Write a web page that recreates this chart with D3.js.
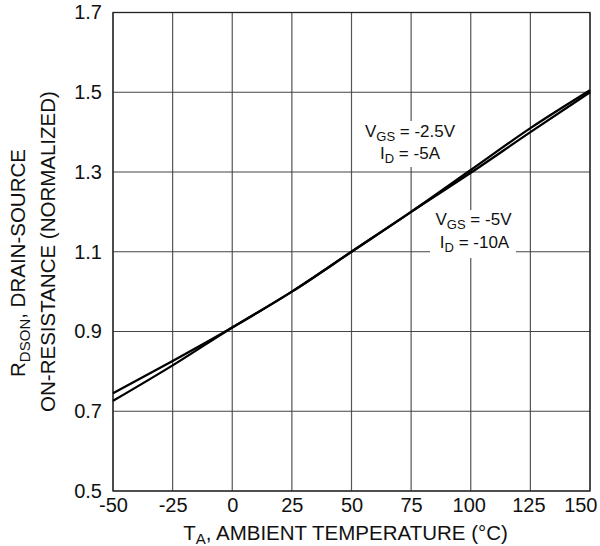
<!DOCTYPE html>
<html><head><meta charset="utf-8">
<script src="https://cdn.jsdelivr.net/npm/d3@7"></script>
<style>body{margin:0;background:#fff}svg{display:block}text{font-family:"Liberation Sans",Arial,sans-serif;fill:#111}</style>
</head><body><svg id="c" width="600" height="546"></svg>
<script>
const temps = [-50, -25, 0, 25, 50, 75, 100, 125, 150];
const seriesA = [0.745, 0.826, 0.91, 1.0, 1.1, 1.2, 1.305, 1.41, 1.505]; // VGS=-2.5V, ID=-5A
const seriesB = [0.726, 0.815, 0.91, 1.0, 1.1, 1.2, 1.298, 1.40, 1.5];   // VGS=-5V, ID=-10A
const xTicks = [-50, -25, 0, 25, 50, 75, 100, 125, 150];
const yTicks = [0.5, 0.7, 0.9, 1.1, 1.3, 1.5, 1.7];

const svg = d3.select("#c");
const L = 113, R = 590, T = 12.5, B = 491;
const x = d3.scaleLinear().domain([-50, 150]).range([L, R]);
const y = d3.scaleLinear().domain([0.5, 1.7]).range([B, T]);

// grid
const g = svg.append("g");
g.selectAll(".vx").data(xTicks).join("line")
  .attr("x1", d => x(d)).attr("x2", d => x(d)).attr("y1", T).attr("y2", B)
  .attr("stroke", "#555").attr("stroke-width", 1.2);
g.selectAll(".hy").data(yTicks).join("line")
  .attr("x1", L).attr("x2", R).attr("y1", d => y(d)).attr("y2", d => y(d))
  .attr("stroke", "#444").attr("stroke-width", 1.2);

// frame
svg.append("rect").attr("x", L).attr("y", T).attr("width", R - L).attr("height", B - T)
  .attr("fill", "none").attr("stroke", "#222").attr("stroke-width", 1.3);

// tick labels via axes
const xAxis = svg.append("g").attr("transform", `translate(0,${B})`)
  .call(d3.axisBottom(x).tickValues(xTicks).tickSize(0).tickPadding(7).tickFormat(d => String(d)));
xAxis.select(".domain").remove();
xAxis.selectAll("text").attr("font-size", 20).attr("font-family", "Liberation Sans, Arial, sans-serif").attr("fill", "#111")
  .attr("text-anchor", d => d === 150 ? "end" : "middle")
  .attr("dx", d => d === 150 ? 7 : (d >= 100 ? -2 : 0));
const yAxis = svg.append("g").attr("transform", `translate(${L},0)`)
  .call(d3.axisLeft(y).tickValues(yTicks).tickSize(0).tickPadding(11).tickFormat(d3.format(".1f")));
yAxis.select(".domain").remove();
yAxis.selectAll("text").attr("font-size", 20).attr("font-family", "Liberation Sans, Arial, sans-serif").attr("fill", "#111");

// annotation boxes (white) - behind lines
svg.append("rect").attr("x", 364).attr("y", 121).attr("width", 94).attr("height", 46).attr("fill", "#fff");
svg.append("rect").attr("x", 430).attr("y", 210).attr("width", 86).attr("height", 48).attr("fill", "#fff");

// lines
const line = d3.line().x((d, i) => x(temps[i])).y(d => y(d)).curve(d3.curveMonotoneX);
[seriesA, seriesB].forEach(s => {
  svg.append("path").attr("d", line(s)).attr("fill", "none").attr("stroke", "#000").attr("stroke-width", 2.3);
});

// annotations
function label(cx, by, main, sub, rest) {
  const t = svg.append("text").attr("x", cx).attr("y", by).attr("text-anchor", "middle").attr("font-size", 17);
  t.append("tspan").text(main);
  t.append("tspan").attr("font-size", 13).attr("dy", 4).text(sub);
  t.append("tspan").attr("dy", -4).text(rest);
}
label(410, 137, "V", "GS", " = -2.5V");
label(410, 159, "I", "D", " = -5A");
label(473.5, 225, "V", "GS", " = -5V");
label(474.5, 248, "I", "D", " = -10A");

// x title
const xt = svg.append("text").attr("x", 345.5).attr("y", 540).attr("text-anchor", "middle").attr("font-size", 20.5);
xt.append("tspan").text("T");
xt.append("tspan").attr("font-size", 15).attr("dy", 4).text("A");
xt.append("tspan").attr("dy", -4).text(", AMBIENT TEMPERATURE (°C)");

// y title
const yt1 = svg.append("text").attr("transform", "translate(25,263) rotate(-90)").attr("text-anchor", "middle").attr("font-size", 20.5);
yt1.append("tspan").text("R");
yt1.append("tspan").attr("font-size", 15).attr("dy", 5).text("DSON");
yt1.append("tspan").attr("dy", -5).text(", DRAIN-SOURCE");
svg.append("text").attr("transform", "translate(55,251.5) rotate(-90)").attr("text-anchor", "middle").attr("font-size", 20.5)
  .text("ON-RESISTANCE (NORMALIZED)");
</script></body></html>
